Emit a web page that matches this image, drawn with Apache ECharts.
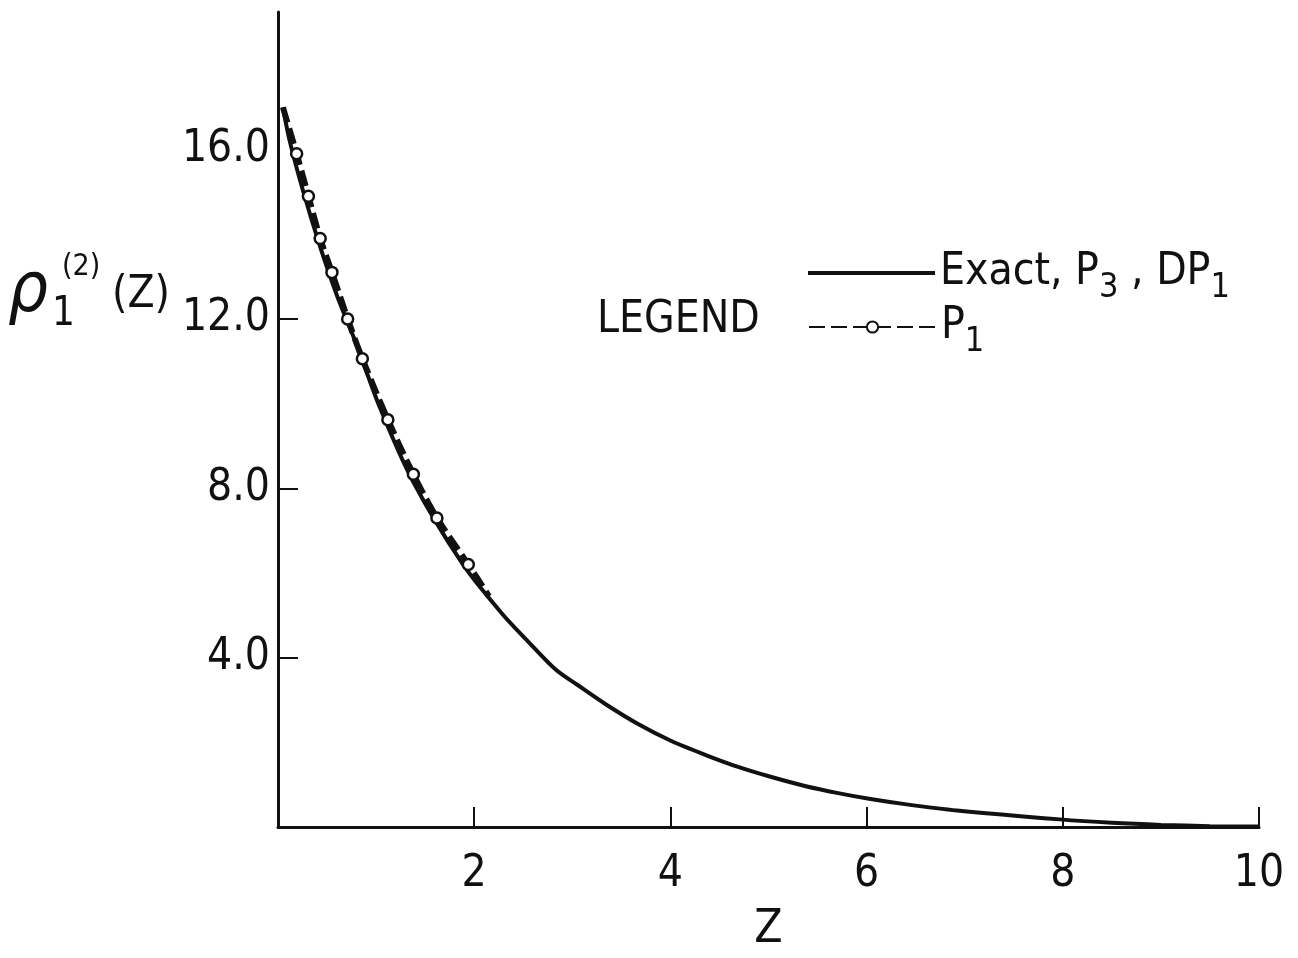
<!DOCTYPE html>
<html>
<head>
<meta charset="utf-8">
<script src="https://cdn.jsdelivr.net/npm/echarts@6/dist/echarts.min.js"></script>
<style>
  html, body { margin: 0; padding: 0; background: #fff; }
  #chart { width: 1298px; height: 958px; }
</style>
</head>
<body>
<div id="chart"></div>
<script>
// ---- Data ----
const exactZ   = [0.05, 0.12, 0.25, 0.43, 0.6, 0.8, 1.04, 1.37, 1.88, 2.28, 2.55, 2.83, 3.05, 3.34, 3.68, 4.01, 4.36, 4.69, 5.03, 5.37, 5.71, 6.04, 6.39, 6.92, 7.97, 8.5, 9.0, 9.5, 10.0];
const exactRho = [17.0, 16.2, 15.07, 13.7, 12.56, 11.4, 9.9, 8.19, 6.22, 5.05, 4.38, 3.72, 3.36, 2.90, 2.42, 2.03, 1.70, 1.42, 1.18, 0.97, 0.80, 0.66, 0.54, 0.39, 0.18, 0.10, 0.05, 0.02, 0.01];

const p1Z      = [0.05, 0.19, 0.31, 0.43, 0.55, 0.71, 0.86, 1.12, 1.38, 1.62, 1.94, 2.15];
const p1Rho    = [17.0, 15.9, 14.9, 13.9, 13.1, 12.0, 11.06, 9.62, 8.33, 7.30, 6.20, 5.45];
const p1Circle = [false, true, true, true, true, true, true, true, true, true, true, false];

const xTicks  = [2, 4, 6, 8, 10];
const yTicks  = [4, 8, 12];
const yLabels = [4, 8, 12, 16];

const FONT = "'Liberation Sans Narrow', 'DejaVu Sans Condensed', 'Liberation Sans', sans-serif";
const INK = '#111';

const chart = echarts.init(document.getElementById('chart'));

const legendText = {
  fontFamily: FONT, fontSize: 44, color: INK,
  rich: { sub: { fontFamily: FONT, fontSize: 34, color: INK, padding: [30, 0, 0, 0] } }
};

const option = {
  backgroundColor: '#fff',
  animation: false,
  grid: { left: 278, right: 39, top: 12, bottom: 126 },
  xAxis: {
    type: 'value',
    min: 0,
    max: 10,
    interval: 2,
    name: 'Z',
    nameLocation: 'middle',
    nameGap: 80,
    nameTextStyle: { fontFamily: FONT, fontSize: 46, color: INK },
    splitLine: { show: false },
    axisLine: { lineStyle: { color: INK, width: 3 } },
    axisTick: { inside: true, length: 20, customValues: xTicks, lineStyle: { color: INK, width: 2 } },
    axisLabel: { customValues: xTicks, margin: 26, fontFamily: FONT, fontSize: 44, color: INK }
  },
  yAxis: {
    type: 'value',
    min: 0,
    max: 19.25,
    interval: 4,
    splitLine: { show: false },
    axisLine: { onZero: false, lineStyle: { color: INK, width: 3 } },
    axisTick: { inside: true, length: 20, customValues: yTicks, lineStyle: { color: INK, width: 2 } },
    axisLabel: {
      customValues: yLabels,
      margin: 8,
      fontFamily: FONT,
      fontSize: 44,
      color: INK,
      formatter: v => v.toFixed(1)
    }
  },
  legend: [
    {
      data: ['Exact'],
      left: 803,
      top: 246,
      icon: 'rect',
      itemWidth: 127,
      itemHeight: 4,
      formatter: () => 'Exact, P{sub|3} , DP{sub|1}',
      textStyle: legendText
    },
    {
      data: ['P1'],
      left: 803,
      top: 300,
      itemWidth: 127,
      itemHeight: 14,
      formatter: () => 'P{sub|1}',
      textStyle: legendText
    }
  ],
  graphic: [
    {
      type: 'text', left: 597, top: 299,
      style: { text: 'LEGEND', font: '44px ' + FONT, fill: INK }
    },
    {
      type: 'text', x: 8, y: 258,
      style: { text: 'ρ', font: 'italic 70px "DejaVu Sans Condensed", sans-serif', fill: INK }
    },
    {
      type: 'text', x: 52, y: 295,
      style: { text: '1', font: '40px ' + FONT, fill: INK }
    },
    {
      type: 'text', x: 62, y: 252,
      style: { text: '(2)', font: '30px ' + FONT, fill: INK }
    },
    {
      type: 'text', x: 112, y: 274,
      style: { text: '(Z)', font: '44px ' + FONT, fill: INK }
    }
  ],
  series: [
    {
      name: 'Exact',
      type: 'line',
      smooth: 0.3,
      symbol: 'none',
      data: exactZ.map((z, i) => [z, exactRho[i]]),
      lineStyle: { color: INK, width: 4 },
      itemStyle: { color: INK },
      z: 2
    },
    {
      name: 'P1',
      type: 'line',
      smooth: 0.3,
      symbol: 'circle',
      symbolSize: 11,
      data: p1Z.map((z, i) => ({
        value: [z, p1Rho[i]],
        symbol: p1Circle[i] ? 'circle' : 'none'
      })),
      lineStyle: { color: INK, width: 6, type: [16, 6] },
      itemStyle: { color: '#fff', borderColor: INK, borderWidth: 2.5 },
      z: 3
    }
  ]
};

chart.setOption(option);
window.addEventListener('resize', () => chart.resize());
</script>
</body>
</html>
